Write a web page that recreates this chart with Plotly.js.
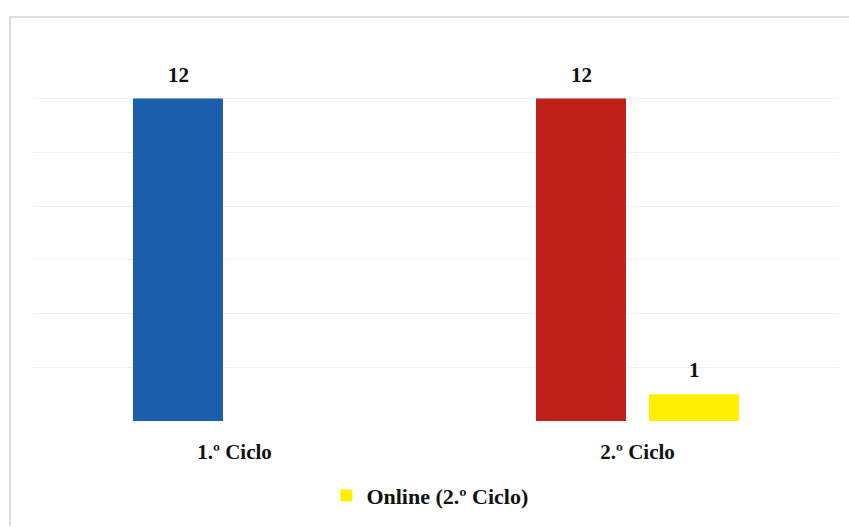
<!DOCTYPE html>
<html>
<head>
<meta charset="utf-8">
<script src="https://cdn.plot.ly/plotly-3.0.1.min.js"></script>
<style>
  html, body { margin: 0; padding: 0; background: #ffffff; }
  #wrap { position: relative; width: 849px; height: 527px; overflow: hidden; }
  #chart { position: absolute; left: 0; top: 0; width: 849px; height: 527px; }
  #frame { position: absolute; left: 9px; top: 16px; width: 900px; height: 508px;
           border-left: 2px solid #dcdcdc; border-top: 2px solid #dcdcdc; pointer-events: none; }
</style>
</head>
<body>
<div id="wrap">
  <div id="chart"></div>
  <div id="frame"></div>
</div>
<script>
// ---- data ----
const categories = ["1.º Ciclo", "2.º Ciclo"];
const mainValues = [12, 12];
const mainColors = ["#1b5eab", "#be1f17"];
const onlineName = "Online (2.º Ciclo)";
const onlineCategories = ["2.º Ciclo"];
const onlineValues = [1];
const onlineColor = "#fff000";

// ---- style constants ----
const FONT = "Liberation Serif, Cambria, serif";
const SLOT_SHIFT = 56.5; // px offset of each series inside a category group

const traces = [
  {
    type: "bar",
    x: categories,
    y: mainValues,
    marker: { color: mainColors },
    showlegend: false,
    hoverinfo: "skip"
  },
  {
    type: "bar",
    name: onlineName,
    x: onlineCategories,
    y: onlineValues,
    marker: { color: onlineColor },
    showlegend: true,
    hoverinfo: "skip"
  }
];

const annotations = [];
categories.forEach((c, i) => {
  annotations.push({
    x: c, y: mainValues[i], xref: "x", yref: "y",
    text: "<b>" + mainValues[i] + "</b>", showarrow: false,
    xshift: -SLOT_SHIFT, yshift: 10, yanchor: "bottom",
    font: { family: FONT, size: 21, color: "#111111" }
  });
});
onlineCategories.forEach((c, i) => {
  annotations.push({
    x: c, y: onlineValues[i], xref: "x", yref: "y",
    text: "<b>" + onlineValues[i] + "</b>", showarrow: false,
    xshift: SLOT_SHIFT, yshift: 10, yanchor: "bottom",
    font: { family: FONT, size: 21, color: "#111111" }
  });
});

const layout = {
  width: 849,
  height: 527,
  margin: { l: 33, r: 10, t: 44, b: 103 },
  paper_bgcolor: "rgba(0,0,0,0)",
  plot_bgcolor: "rgba(0,0,0,0)",
  barmode: "group",
  bargap: 0.439,
  bargroupgap: 0.204,
  font: { family: FONT, size: 21, color: "#111111" },
  xaxis: {
    type: "category",
    categoryorder: "array",
    categoryarray: categories,
    range: [-0.5, 1.5],
    showline: false,
    showgrid: false,
    zeroline: false,
    ticks: "outside",
    ticklen: 12,
    tickcolor: "rgba(0,0,0,0)",
    tickfont: { family: FONT, size: 21, color: "#111111", weight: "bold" }
  },
  yaxis: {
    range: [0, 14.03],
    tickvals: [0, 2, 4, 6, 8, 10, 12, 14],
    showticklabels: false,
    showline: false,
    zeroline: false,
    showgrid: true,
    gridcolor: "#f1f1f1",
    gridwidth: 1
  },
  showlegend: true,
  legend: {
    orientation: "h",
    x: 0.364,
    xanchor: "left",
    y: -0.198,
    yanchor: "middle",
    font: { family: FONT, size: 22, color: "#111111", weight: "bold" },
    bgcolor: "rgba(0,0,0,0)"
  },
  annotations: annotations
};

Plotly.newPlot("chart", traces, layout, { displayModeBar: false, staticPlot: true });
</script>
</body>
</html>
